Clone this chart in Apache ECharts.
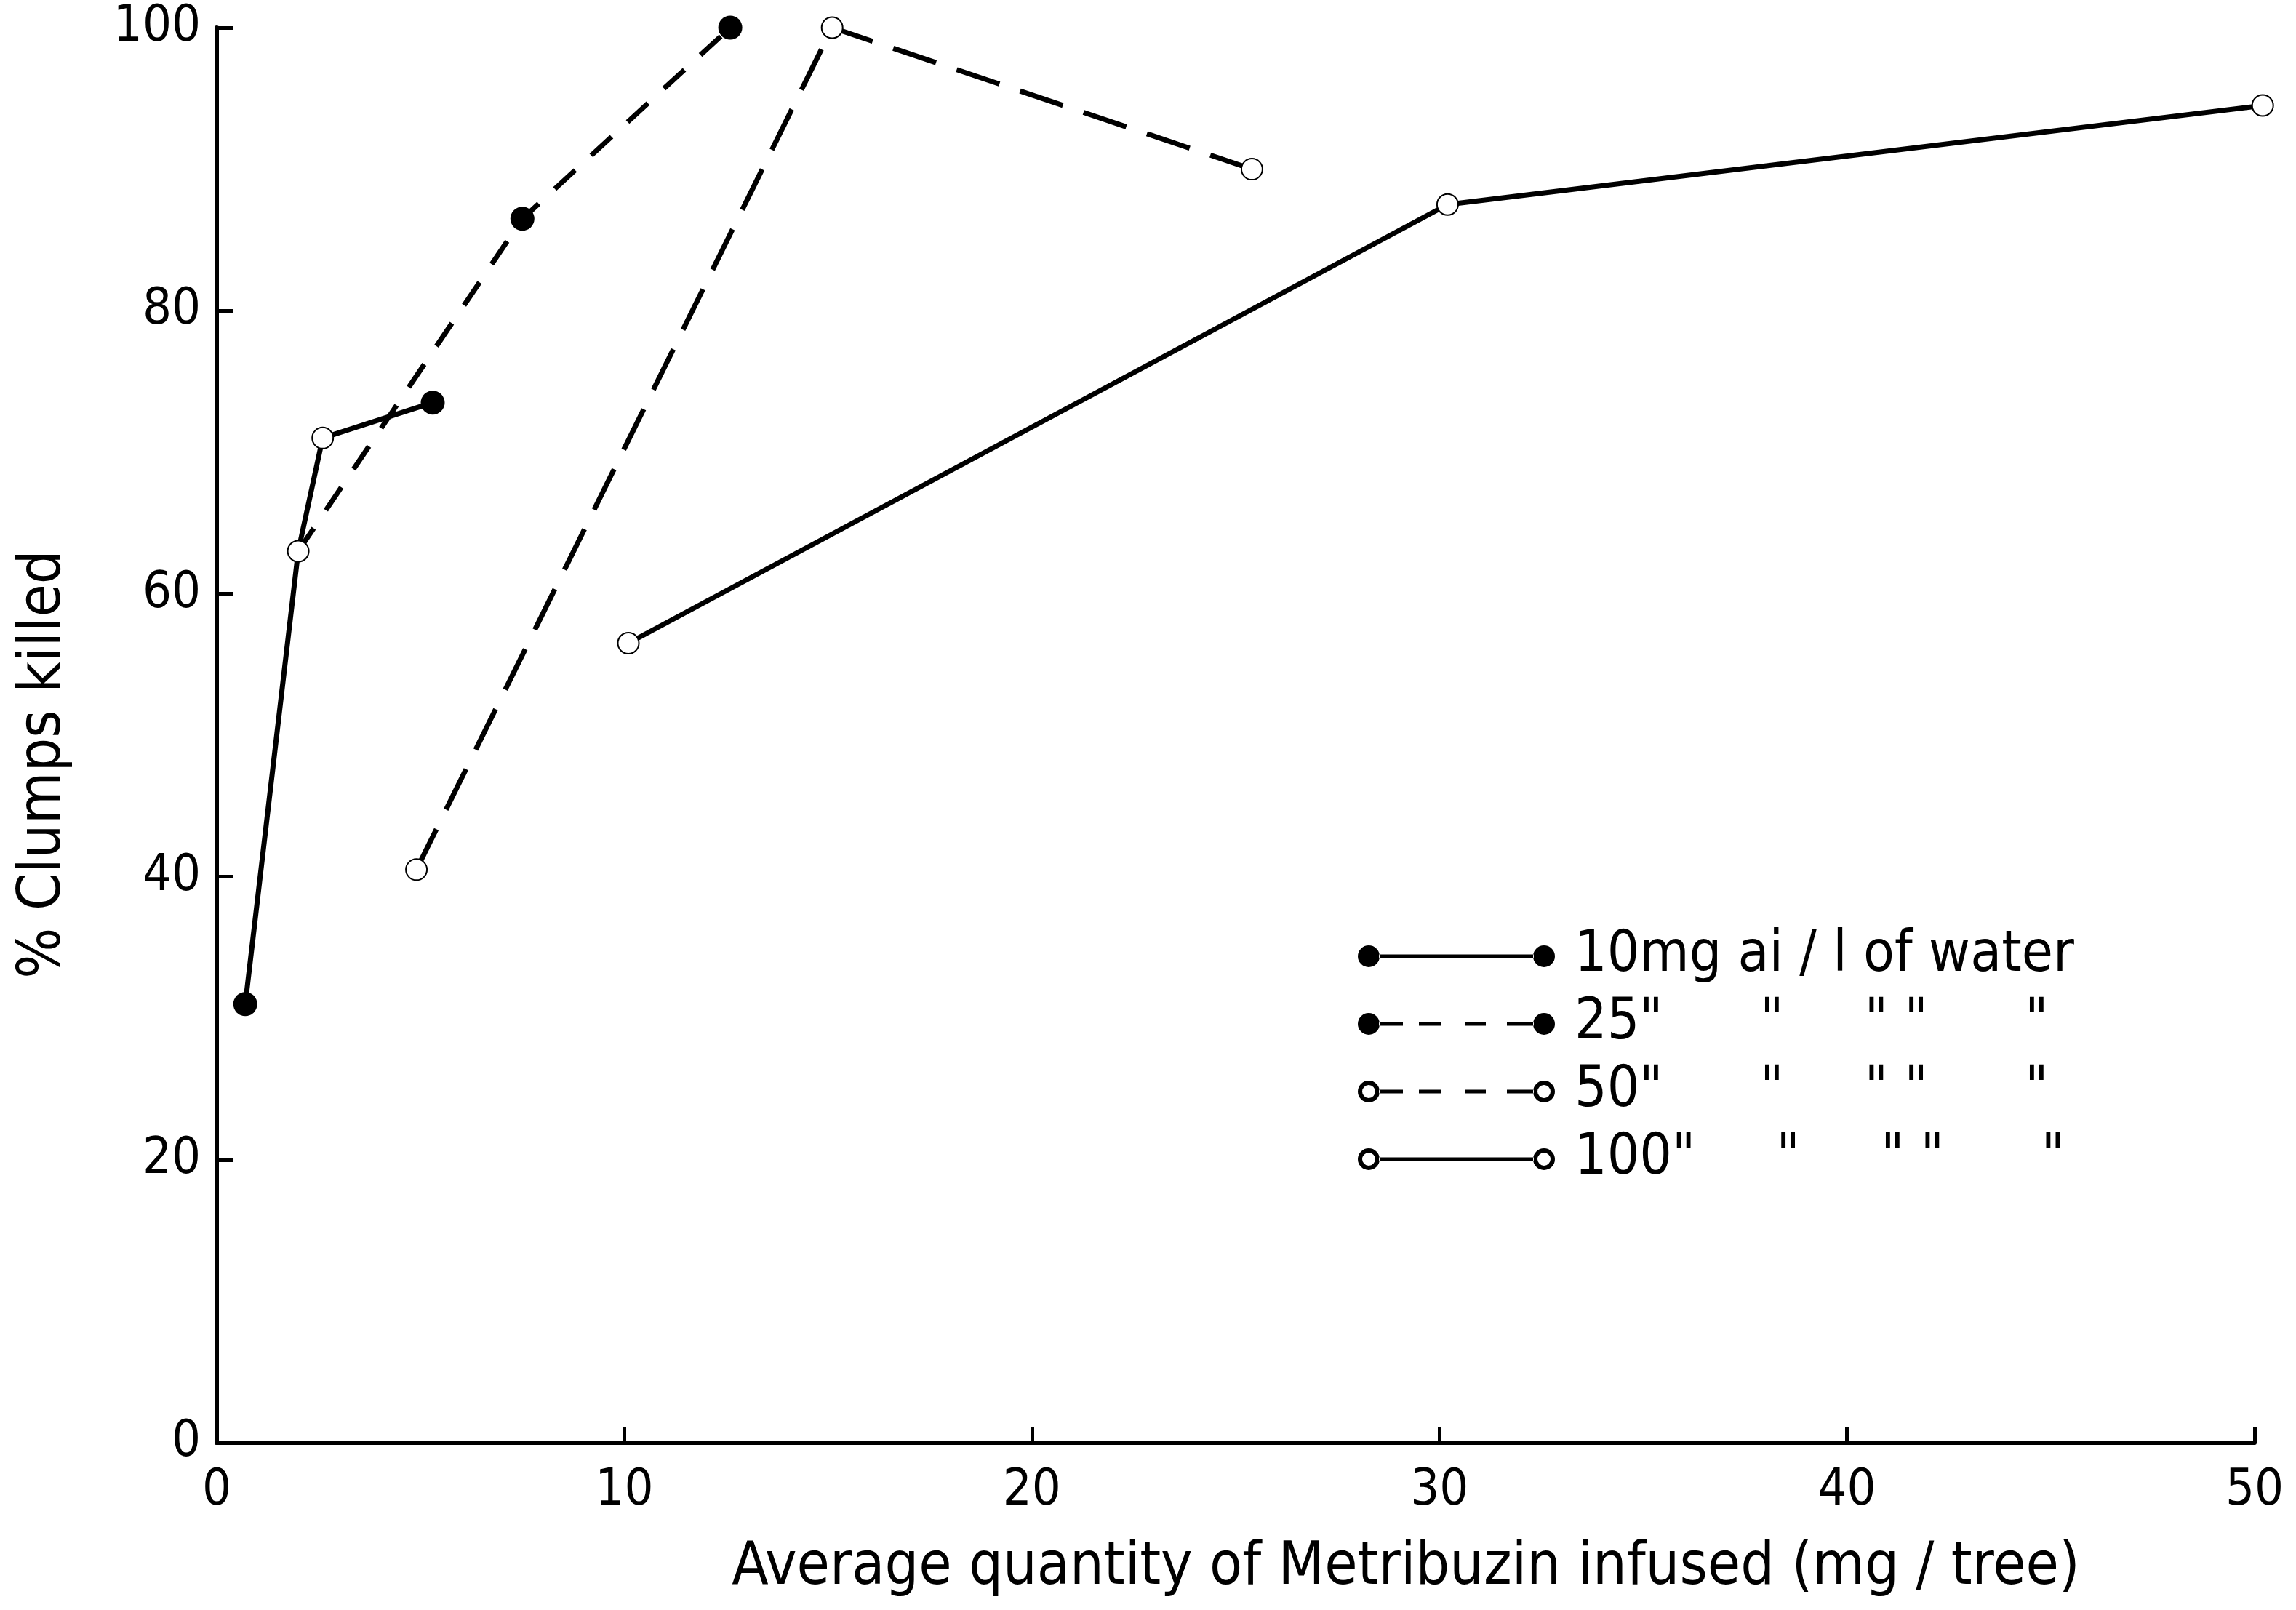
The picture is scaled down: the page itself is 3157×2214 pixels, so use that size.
<!DOCTYPE html>
<html>
<head>
<meta charset="utf-8">
<script src="https://cdn.jsdelivr.net/npm/echarts@6/dist/echarts.min.js"></script>
<style>
html,body{margin:0;padding:0;background:#fff;}
#main{width:3157px;height:2214px;}
</style>
</head>
<body>
<div id="main"></div>
<script>
// ---- data ----
const xTicks = [0, 10, 20, 30, 40, 50];
const yTicks = [0, 20, 40, 60, 80, 100];

const names = [
  '10mg ai / l of water',
  '25"      "     " "      "',
  '50"      "     " "      "',
  '100"     "     " "      "'
];

// [mg/tree, % clumps killed]
const s10  = [[0.7, 31], [2.0, 63], [2.6, 71], [5.3, 73.5]];
const s25  = [[2.0, 63], [7.5, 86.5], [12.6, 100]];
const s50  = [[4.9, 40.5], [15.1, 100], [25.4, 90]];
const s100 = [[10.1, 56.5], [30.2, 87.5], [50.2, 94.5]];

// marker kind per point: 'f' filled, 'o' open, '-' none
const m10  = ['f', 'o', 'o', 'f'];
const m25  = ['-', 'f', 'f'];
const m50  = ['o', 'o', 'o'];
const m100 = ['o', 'o', 'o'];

// ---- styling helpers ----
const FONT = '"DejaVu Sans Condensed", "Liberation Sans Narrow", "DejaVu Sans", sans-serif';

function toItems(arr, marks) {
  return arr.map((p, i) => {
    const k = marks[i];
    if (k === '-') return { value: p, symbol: 'none' };
    if (k === 'o') return { value: p, symbol: 'emptyCircle', symbolSize: 29,
      itemStyle: { color: '#000', borderColor: '#000', borderWidth: 6 } };
    return { value: p, symbol: 'circle', symbolSize: 33,
      itemStyle: { color: '#000', borderWidth: 0 } };
  });
}

function circ(cx, cy, r, sweep) {
  return `M${cx - r} ${cy} A${r} ${r} 0 1 ${sweep} ${cx + r} ${cy} A${r} ${r} 0 1 ${sweep} ${cx - r} ${cy} Z `;
}
function rect(x1, x2, cy, h) {
  const y1 = cy - h / 2, y2 = cy + h / 2;
  return `M${x1} ${y1} L${x2} ${y1} L${x2} ${y2} L${x1} ${y2} Z `;
}
function legendIcon(open, dashed) {
  const cy = 17, r = 15, ri = 9, L = 15, R = 256;
  let p = '';
  if (open) {
    p += circ(L, cy, r, 0) + circ(L, cy, ri, 1);
    p += circ(R, cy, r, 0) + circ(R, cy, ri, 1);
  } else {
    p += circ(L, cy, r, 0) + circ(R, cy, r, 0);
  }
  if (dashed) {
    p += rect(L + r - 1, 62, cy, 5) + rect(84, 114, cy, 5) + rect(147, 176, cy, 5) + rect(205, R - r + 1, cy, 5);
  } else {
    p += rect(L + r - 1, R - r + 1, cy, 5);
  }
  return 'path://' + p;
}

const chart = echarts.init(document.getElementById('main'), null, { renderer: 'canvas' });

const axisLine = { show: true, onZero: false, lineStyle: { color: '#000', width: 6 } };
const axisTick = { show: true, inside: true, length: 22, lineStyle: { color: '#000', width: 5 } };

const option = {
  backgroundColor: '#fff',
  animation: false,
  grid: { left: 298, right: 57, top: 38, bottom: 230, containLabel: false },
  xAxis: {
    type: 'value', min: xTicks[0], max: xTicks[xTicks.length - 1], interval: 10,
    axisLine: axisLine, axisTick: axisTick, splitLine: { show: false },
    axisLabel: { color: '#000', fontFamily: FONT, fontSize: 70, margin: 32,
      formatter: v => xTicks.includes(v) ? String(v) : '' },
    name: 'Average quantity of Metribuzin infused (mg / tree)',
    nameLocation: 'middle', nameGap: 132,
    nameTextStyle: { color: '#000', fontFamily: FONT, fontSize: 82, padding: [0, 0, 0, 468] }
  },
  yAxis: {
    type: 'value', min: yTicks[0], max: yTicks[yTicks.length - 1], interval: 20,
    axisLine: axisLine, axisTick: axisTick, splitLine: { show: false },
    axisLabel: { color: '#000', fontFamily: FONT, fontSize: 70, margin: 22,
      formatter: v => yTicks.includes(v) ? String(v) : '' },
    name: '% Clumps killed',
    nameLocation: 'middle', nameGap: 196, nameRotate: 90,
    nameTextStyle: { color: '#000', fontFamily: FONT, fontSize: 82, padding: [0, 80, 0, 0] }
  },
  legend: {
    orient: 'vertical', left: 1862, top: 1265,
    itemWidth: 271, itemHeight: 34, itemGap: 3,
    selectedMode: false,
    itemStyle: { color: '#000', borderWidth: 0 },
    textStyle: { color: '#000', fontFamily: FONT, fontSize: 78, lineHeight: 90, padding: [0, 0, 0, 22] },
    data: [
      { name: names[0], icon: legendIcon(false, false) },
      { name: names[1], icon: legendIcon(false, true) },
      { name: names[2], icon: legendIcon(true, true) },
      { name: names[3], icon: legendIcon(true, false) }
    ]
  },
  series: [
    { name: names[0], type: 'line', clip: false, data: toItems(s10, m10),
      lineStyle: { color: '#000', width: 7, type: 'solid' }, itemStyle: { color: '#000' } },
    { name: names[1], type: 'line', clip: false, data: toItems(s25, m25),
      lineStyle: { color: '#000', width: 7, type: [38, 30] }, itemStyle: { color: '#000' } },
    { name: names[2], type: 'line', clip: false, data: toItems(s50, m50),
      lineStyle: { color: '#000', width: 7, type: [62, 30] }, itemStyle: { color: '#000' } },
    { name: names[3], type: 'line', clip: false, data: toItems(s100, m100),
      lineStyle: { color: '#000', width: 7, type: 'solid' }, itemStyle: { color: '#000' } }
  ]
};
chart.setOption(option);
</script>
</body>
</html>
